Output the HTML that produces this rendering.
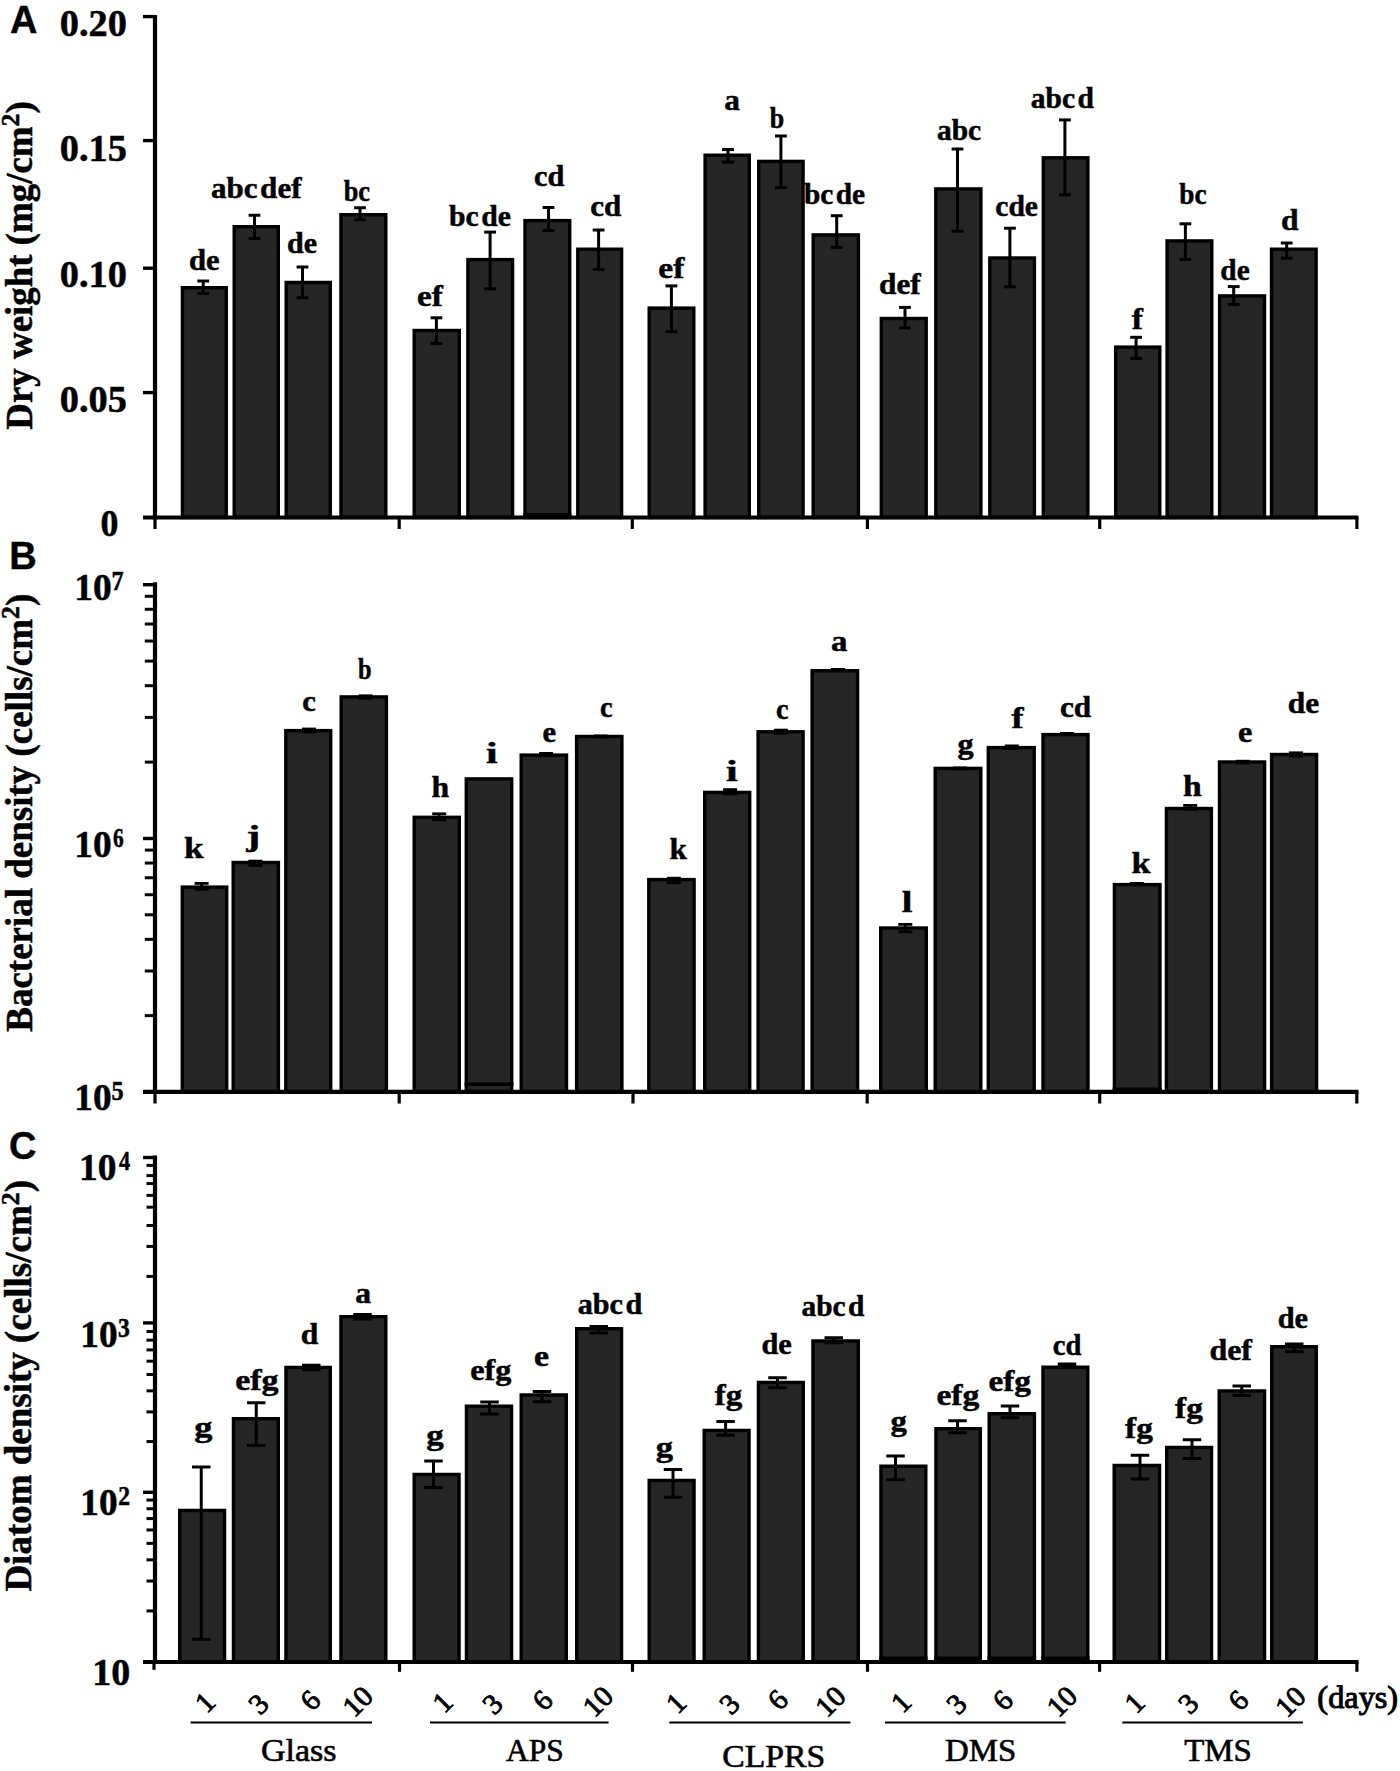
<!DOCTYPE html>
<html lang="en"><head><meta charset="utf-8"><title>Figure</title>
<style>html,body{margin:0;padding:0;background:#fff}svg{display:block}</style></head>
<body><svg width="1400" height="1771" viewBox="0 0 1400 1771">
<rect x="0" y="0" width="1400" height="1771" fill="#fff"/>
<rect x="182.45" y="287.70" width="43.85" height="229.80" fill="#262626" stroke="#000" stroke-width="3.4"/>
<rect x="234.20" y="226.70" width="44.10" height="290.80" fill="#262626" stroke="#000" stroke-width="3.4"/>
<rect x="286.20" y="282.45" width="44.10" height="235.05" fill="#262626" stroke="#000" stroke-width="3.4"/>
<rect x="340.95" y="214.70" width="44.85" height="302.80" fill="#262626" stroke="#000" stroke-width="3.4"/>
<rect x="414.20" y="330.50" width="45.10" height="187.00" fill="#262626" stroke="#000" stroke-width="3.4"/>
<rect x="467.90" y="259.60" width="44.70" height="257.90" fill="#262626" stroke="#000" stroke-width="3.4"/>
<rect x="525.00" y="220.60" width="44.70" height="296.90" fill="#262626" stroke="#000" stroke-width="3.4"/>
<rect x="577.80" y="249.20" width="43.80" height="268.30" fill="#262626" stroke="#000" stroke-width="3.4"/>
<rect x="649.20" y="308.10" width="44.60" height="209.40" fill="#262626" stroke="#000" stroke-width="3.4"/>
<rect x="705.10" y="155.20" width="44.20" height="362.30" fill="#262626" stroke="#000" stroke-width="3.4"/>
<rect x="758.70" y="161.40" width="44.40" height="356.10" fill="#262626" stroke="#000" stroke-width="3.4"/>
<rect x="813.20" y="234.90" width="45.20" height="282.60" fill="#262626" stroke="#000" stroke-width="3.4"/>
<rect x="881.30" y="318.50" width="44.90" height="199.00" fill="#262626" stroke="#000" stroke-width="3.4"/>
<rect x="935.80" y="188.90" width="45.10" height="328.60" fill="#262626" stroke="#000" stroke-width="3.4"/>
<rect x="989.80" y="258.00" width="44.60" height="259.50" fill="#262626" stroke="#000" stroke-width="3.4"/>
<rect x="1043.30" y="157.80" width="44.60" height="359.70" fill="#262626" stroke="#000" stroke-width="3.4"/>
<rect x="1115.70" y="347.10" width="44.10" height="170.40" fill="#262626" stroke="#000" stroke-width="3.4"/>
<rect x="1167.10" y="240.90" width="44.70" height="276.60" fill="#262626" stroke="#000" stroke-width="3.4"/>
<rect x="1219.60" y="295.90" width="44.90" height="221.60" fill="#262626" stroke="#000" stroke-width="3.4"/>
<rect x="1271.50" y="249.20" width="44.60" height="268.30" fill="#262626" stroke="#000" stroke-width="3.4"/>
<line x1="203.25" y1="280.50" x2="203.25" y2="294.00" stroke="#000" stroke-width="3.0" stroke-linecap="butt"/>
<line x1="197.35" y1="281.00" x2="209.15" y2="281.00" stroke="#000" stroke-width="3.0" stroke-linecap="butt"/>
<line x1="197.35" y1="293.50" x2="209.15" y2="293.50" stroke="#000" stroke-width="3.0" stroke-linecap="butt"/>
<line x1="254.50" y1="214.75" x2="254.50" y2="239.00" stroke="#000" stroke-width="3.0" stroke-linecap="butt"/>
<line x1="248.60" y1="215.25" x2="260.40" y2="215.25" stroke="#000" stroke-width="3.0" stroke-linecap="butt"/>
<line x1="248.60" y1="238.50" x2="260.40" y2="238.50" stroke="#000" stroke-width="3.0" stroke-linecap="butt"/>
<line x1="302.50" y1="266.50" x2="302.50" y2="298.25" stroke="#000" stroke-width="3.0" stroke-linecap="butt"/>
<line x1="296.60" y1="267.00" x2="308.40" y2="267.00" stroke="#000" stroke-width="3.0" stroke-linecap="butt"/>
<line x1="296.60" y1="297.75" x2="308.40" y2="297.75" stroke="#000" stroke-width="3.0" stroke-linecap="butt"/>
<line x1="360.00" y1="207.25" x2="360.00" y2="220.25" stroke="#000" stroke-width="3.0" stroke-linecap="butt"/>
<line x1="354.10" y1="207.75" x2="365.90" y2="207.75" stroke="#000" stroke-width="3.0" stroke-linecap="butt"/>
<line x1="354.10" y1="219.75" x2="365.90" y2="219.75" stroke="#000" stroke-width="3.0" stroke-linecap="butt"/>
<line x1="436.40" y1="317.30" x2="436.40" y2="343.90" stroke="#000" stroke-width="3.0" stroke-linecap="butt"/>
<line x1="430.50" y1="317.80" x2="442.30" y2="317.80" stroke="#000" stroke-width="3.0" stroke-linecap="butt"/>
<line x1="430.50" y1="343.40" x2="442.30" y2="343.40" stroke="#000" stroke-width="3.0" stroke-linecap="butt"/>
<line x1="490.10" y1="231.60" x2="490.10" y2="289.30" stroke="#000" stroke-width="3.0" stroke-linecap="butt"/>
<line x1="484.20" y1="232.10" x2="496.00" y2="232.10" stroke="#000" stroke-width="3.0" stroke-linecap="butt"/>
<line x1="484.20" y1="288.80" x2="496.00" y2="288.80" stroke="#000" stroke-width="3.0" stroke-linecap="butt"/>
<line x1="548.50" y1="207.00" x2="548.50" y2="231.00" stroke="#000" stroke-width="3.0" stroke-linecap="butt"/>
<line x1="542.60" y1="207.50" x2="554.40" y2="207.50" stroke="#000" stroke-width="3.0" stroke-linecap="butt"/>
<line x1="542.60" y1="230.50" x2="554.40" y2="230.50" stroke="#000" stroke-width="3.0" stroke-linecap="butt"/>
<line x1="598.60" y1="229.50" x2="598.60" y2="269.90" stroke="#000" stroke-width="3.0" stroke-linecap="butt"/>
<line x1="592.70" y1="230.00" x2="604.50" y2="230.00" stroke="#000" stroke-width="3.0" stroke-linecap="butt"/>
<line x1="592.70" y1="269.40" x2="604.50" y2="269.40" stroke="#000" stroke-width="3.0" stroke-linecap="butt"/>
<line x1="671.40" y1="285.40" x2="671.40" y2="332.20" stroke="#000" stroke-width="3.0" stroke-linecap="butt"/>
<line x1="665.50" y1="285.90" x2="677.30" y2="285.90" stroke="#000" stroke-width="3.0" stroke-linecap="butt"/>
<line x1="665.50" y1="331.70" x2="677.30" y2="331.70" stroke="#000" stroke-width="3.0" stroke-linecap="butt"/>
<line x1="728.00" y1="149.00" x2="728.00" y2="162.60" stroke="#000" stroke-width="3.0" stroke-linecap="butt"/>
<line x1="722.10" y1="149.50" x2="733.90" y2="149.50" stroke="#000" stroke-width="3.0" stroke-linecap="butt"/>
<line x1="722.10" y1="162.10" x2="733.90" y2="162.10" stroke="#000" stroke-width="3.0" stroke-linecap="butt"/>
<line x1="780.90" y1="135.50" x2="780.90" y2="188.10" stroke="#000" stroke-width="3.0" stroke-linecap="butt"/>
<line x1="775.00" y1="136.00" x2="786.80" y2="136.00" stroke="#000" stroke-width="3.0" stroke-linecap="butt"/>
<line x1="775.00" y1="187.60" x2="786.80" y2="187.60" stroke="#000" stroke-width="3.0" stroke-linecap="butt"/>
<line x1="836.70" y1="215.20" x2="836.70" y2="247.80" stroke="#000" stroke-width="3.0" stroke-linecap="butt"/>
<line x1="830.80" y1="215.70" x2="842.60" y2="215.70" stroke="#000" stroke-width="3.0" stroke-linecap="butt"/>
<line x1="830.80" y1="247.30" x2="842.60" y2="247.30" stroke="#000" stroke-width="3.0" stroke-linecap="butt"/>
<line x1="905.00" y1="306.90" x2="905.00" y2="328.30" stroke="#000" stroke-width="3.0" stroke-linecap="butt"/>
<line x1="899.10" y1="307.40" x2="910.90" y2="307.40" stroke="#000" stroke-width="3.0" stroke-linecap="butt"/>
<line x1="899.10" y1="327.80" x2="910.90" y2="327.80" stroke="#000" stroke-width="3.0" stroke-linecap="butt"/>
<line x1="957.50" y1="148.50" x2="957.50" y2="231.70" stroke="#000" stroke-width="3.0" stroke-linecap="butt"/>
<line x1="951.60" y1="149.00" x2="963.40" y2="149.00" stroke="#000" stroke-width="3.0" stroke-linecap="butt"/>
<line x1="951.60" y1="231.20" x2="963.40" y2="231.20" stroke="#000" stroke-width="3.0" stroke-linecap="butt"/>
<line x1="1009.90" y1="227.70" x2="1009.90" y2="287.30" stroke="#000" stroke-width="3.0" stroke-linecap="butt"/>
<line x1="1004.00" y1="228.20" x2="1015.80" y2="228.20" stroke="#000" stroke-width="3.0" stroke-linecap="butt"/>
<line x1="1004.00" y1="286.80" x2="1015.80" y2="286.80" stroke="#000" stroke-width="3.0" stroke-linecap="butt"/>
<line x1="1064.90" y1="119.40" x2="1064.90" y2="195.30" stroke="#000" stroke-width="3.0" stroke-linecap="butt"/>
<line x1="1059.00" y1="119.90" x2="1070.80" y2="119.90" stroke="#000" stroke-width="3.0" stroke-linecap="butt"/>
<line x1="1059.00" y1="194.80" x2="1070.80" y2="194.80" stroke="#000" stroke-width="3.0" stroke-linecap="butt"/>
<line x1="1136.10" y1="336.80" x2="1136.10" y2="358.90" stroke="#000" stroke-width="3.0" stroke-linecap="butt"/>
<line x1="1130.20" y1="337.30" x2="1142.00" y2="337.30" stroke="#000" stroke-width="3.0" stroke-linecap="butt"/>
<line x1="1130.20" y1="358.40" x2="1142.00" y2="358.40" stroke="#000" stroke-width="3.0" stroke-linecap="butt"/>
<line x1="1185.40" y1="223.30" x2="1185.40" y2="260.00" stroke="#000" stroke-width="3.0" stroke-linecap="butt"/>
<line x1="1179.50" y1="223.80" x2="1191.30" y2="223.80" stroke="#000" stroke-width="3.0" stroke-linecap="butt"/>
<line x1="1179.50" y1="259.50" x2="1191.30" y2="259.50" stroke="#000" stroke-width="3.0" stroke-linecap="butt"/>
<line x1="1233.70" y1="286.10" x2="1233.70" y2="304.90" stroke="#000" stroke-width="3.0" stroke-linecap="butt"/>
<line x1="1227.80" y1="286.60" x2="1239.60" y2="286.60" stroke="#000" stroke-width="3.0" stroke-linecap="butt"/>
<line x1="1227.80" y1="304.40" x2="1239.60" y2="304.40" stroke="#000" stroke-width="3.0" stroke-linecap="butt"/>
<line x1="1286.70" y1="242.50" x2="1286.70" y2="258.70" stroke="#000" stroke-width="3.0" stroke-linecap="butt"/>
<line x1="1280.80" y1="243.00" x2="1292.60" y2="243.00" stroke="#000" stroke-width="3.0" stroke-linecap="butt"/>
<line x1="1280.80" y1="258.20" x2="1292.60" y2="258.20" stroke="#000" stroke-width="3.0" stroke-linecap="butt"/>
<rect x="523.3" y="513" width="48.1" height="5" fill="#000"/>
<line x1="155.00" y1="15.00" x2="155.00" y2="519.50" stroke="#000" stroke-width="4.2" stroke-linecap="butt"/>
<line x1="143.00" y1="517.50" x2="1358.50" y2="517.50" stroke="#000" stroke-width="4.2" stroke-linecap="butt"/>
<line x1="143.00" y1="16.60" x2="155.00" y2="16.60" stroke="#000" stroke-width="3.4" stroke-linecap="butt"/>
<line x1="143.00" y1="140.60" x2="155.00" y2="140.60" stroke="#000" stroke-width="3.4" stroke-linecap="butt"/>
<line x1="143.00" y1="268.20" x2="155.00" y2="268.20" stroke="#000" stroke-width="3.4" stroke-linecap="butt"/>
<line x1="143.00" y1="392.60" x2="155.00" y2="392.60" stroke="#000" stroke-width="3.4" stroke-linecap="butt"/>
<line x1="155.00" y1="517.50" x2="155.00" y2="529.00" stroke="#000" stroke-width="3.2" stroke-linecap="butt"/>
<line x1="399.20" y1="517.50" x2="399.20" y2="529.00" stroke="#000" stroke-width="3.2" stroke-linecap="butt"/>
<line x1="632.30" y1="517.50" x2="632.30" y2="529.00" stroke="#000" stroke-width="3.2" stroke-linecap="butt"/>
<line x1="867.40" y1="517.50" x2="867.40" y2="529.00" stroke="#000" stroke-width="3.2" stroke-linecap="butt"/>
<line x1="1099.70" y1="517.50" x2="1099.70" y2="529.00" stroke="#000" stroke-width="3.2" stroke-linecap="butt"/>
<line x1="1356.90" y1="517.50" x2="1356.90" y2="529.00" stroke="#000" stroke-width="3.2" stroke-linecap="butt"/>
<rect x="182.30" y="887.10" width="44.40" height="204.80" fill="#262626" stroke="#000" stroke-width="3.4"/>
<rect x="233.20" y="862.50" width="45.20" height="229.40" fill="#262626" stroke="#000" stroke-width="3.4"/>
<rect x="285.80" y="730.60" width="44.90" height="361.30" fill="#262626" stroke="#000" stroke-width="3.4"/>
<rect x="341.20" y="696.90" width="45.20" height="395.00" fill="#262626" stroke="#000" stroke-width="3.4"/>
<rect x="414.20" y="817.30" width="45.10" height="274.60" fill="#262626" stroke="#000" stroke-width="3.4"/>
<rect x="466.30" y="778.90" width="45.40" height="313.00" fill="#262626" stroke="#000" stroke-width="3.4"/>
<rect x="521.20" y="755.10" width="45.30" height="336.80" fill="#262626" stroke="#000" stroke-width="3.4"/>
<rect x="576.60" y="736.50" width="45.30" height="355.40" fill="#262626" stroke="#000" stroke-width="3.4"/>
<rect x="648.80" y="879.60" width="45.30" height="212.30" fill="#262626" stroke="#000" stroke-width="3.4"/>
<rect x="704.70" y="792.40" width="45.00" height="299.50" fill="#262626" stroke="#000" stroke-width="3.4"/>
<rect x="758.10" y="731.80" width="45.00" height="360.10" fill="#262626" stroke="#000" stroke-width="3.4"/>
<rect x="812.10" y="670.70" width="45.50" height="421.20" fill="#262626" stroke="#000" stroke-width="3.4"/>
<rect x="880.70" y="928.00" width="45.60" height="163.90" fill="#262626" stroke="#000" stroke-width="3.4"/>
<rect x="935.20" y="768.40" width="45.60" height="323.50" fill="#262626" stroke="#000" stroke-width="3.4"/>
<rect x="988.30" y="747.60" width="45.90" height="344.30" fill="#262626" stroke="#000" stroke-width="3.4"/>
<rect x="1043.00" y="734.60" width="45.00" height="357.30" fill="#262626" stroke="#000" stroke-width="3.4"/>
<rect x="1114.40" y="884.60" width="45.60" height="207.30" fill="#262626" stroke="#000" stroke-width="3.4"/>
<rect x="1166.40" y="808.50" width="45.00" height="283.40" fill="#262626" stroke="#000" stroke-width="3.4"/>
<rect x="1219.50" y="762.00" width="45.10" height="329.90" fill="#262626" stroke="#000" stroke-width="3.4"/>
<rect x="1271.60" y="754.50" width="45.00" height="337.40" fill="#262626" stroke="#000" stroke-width="3.4"/>
<line x1="201.60" y1="883.00" x2="201.60" y2="889.70" stroke="#000" stroke-width="2.8" stroke-linecap="butt"/>
<line x1="194.60" y1="883.40" x2="208.60" y2="883.40" stroke="#000" stroke-width="2.8" stroke-linecap="butt"/>
<line x1="194.60" y1="889.30" x2="208.60" y2="889.30" stroke="#000" stroke-width="2.8" stroke-linecap="butt"/>
<line x1="255.40" y1="860.70" x2="255.40" y2="865.90" stroke="#000" stroke-width="2.8" stroke-linecap="butt"/>
<line x1="248.40" y1="861.10" x2="262.40" y2="861.10" stroke="#000" stroke-width="2.8" stroke-linecap="butt"/>
<line x1="248.40" y1="865.50" x2="262.40" y2="865.50" stroke="#000" stroke-width="2.8" stroke-linecap="butt"/>
<rect x="302.00" y="727.60" width="14.00" height="5.80" fill="#000"/>
<rect x="358.50" y="694.40" width="14.00" height="5.30" fill="#000"/>
<line x1="439.20" y1="813.40" x2="439.20" y2="820.20" stroke="#000" stroke-width="2.8" stroke-linecap="butt"/>
<line x1="432.20" y1="813.80" x2="446.20" y2="813.80" stroke="#000" stroke-width="2.8" stroke-linecap="butt"/>
<line x1="432.20" y1="819.80" x2="446.20" y2="819.80" stroke="#000" stroke-width="2.8" stroke-linecap="butt"/>
<rect x="539.10" y="752.00" width="14.00" height="5.00" fill="#000"/>
<rect x="593.60" y="734.50" width="14.00" height="4.00" fill="#000"/>
<line x1="673.90" y1="877.80" x2="673.90" y2="883.20" stroke="#000" stroke-width="2.8" stroke-linecap="butt"/>
<line x1="666.90" y1="878.20" x2="680.90" y2="878.20" stroke="#000" stroke-width="2.8" stroke-linecap="butt"/>
<line x1="666.90" y1="882.80" x2="680.90" y2="882.80" stroke="#000" stroke-width="2.8" stroke-linecap="butt"/>
<line x1="730.10" y1="789.20" x2="730.10" y2="794.30" stroke="#000" stroke-width="2.8" stroke-linecap="butt"/>
<line x1="723.10" y1="789.60" x2="737.10" y2="789.60" stroke="#000" stroke-width="2.8" stroke-linecap="butt"/>
<line x1="723.10" y1="793.90" x2="737.10" y2="793.90" stroke="#000" stroke-width="2.8" stroke-linecap="butt"/>
<line x1="780.80" y1="729.70" x2="780.80" y2="733.80" stroke="#000" stroke-width="2.8" stroke-linecap="butt"/>
<line x1="773.80" y1="730.10" x2="787.80" y2="730.10" stroke="#000" stroke-width="2.8" stroke-linecap="butt"/>
<line x1="773.80" y1="733.40" x2="787.80" y2="733.40" stroke="#000" stroke-width="2.8" stroke-linecap="butt"/>
<rect x="831.00" y="668.00" width="14.00" height="3.50" fill="#000"/>
<line x1="905.30" y1="924.00" x2="905.30" y2="932.20" stroke="#000" stroke-width="2.8" stroke-linecap="butt"/>
<line x1="898.30" y1="924.40" x2="912.30" y2="924.40" stroke="#000" stroke-width="2.8" stroke-linecap="butt"/>
<line x1="898.30" y1="931.80" x2="912.30" y2="931.80" stroke="#000" stroke-width="2.8" stroke-linecap="butt"/>
<rect x="952.80" y="766.50" width="14.00" height="4.00" fill="#000"/>
<rect x="1004.80" y="744.50" width="14.00" height="5.50" fill="#000"/>
<rect x="1060.00" y="732.00" width="14.00" height="3.50" fill="#000"/>
<rect x="1129.80" y="882.00" width="14.00" height="3.50" fill="#000"/>
<line x1="1190.20" y1="805.00" x2="1190.20" y2="809.90" stroke="#000" stroke-width="2.8" stroke-linecap="butt"/>
<line x1="1183.20" y1="805.40" x2="1197.20" y2="805.40" stroke="#000" stroke-width="2.8" stroke-linecap="butt"/>
<line x1="1183.20" y1="809.50" x2="1197.20" y2="809.50" stroke="#000" stroke-width="2.8" stroke-linecap="butt"/>
<rect x="1235.70" y="759.80" width="14.00" height="4.70" fill="#000"/>
<line x1="1295.90" y1="752.40" x2="1295.90" y2="756.50" stroke="#000" stroke-width="2.8" stroke-linecap="butt"/>
<line x1="1288.90" y1="752.80" x2="1302.90" y2="752.80" stroke="#000" stroke-width="2.8" stroke-linecap="butt"/>
<line x1="1288.90" y1="756.10" x2="1302.90" y2="756.10" stroke="#000" stroke-width="2.8" stroke-linecap="butt"/>
<rect x="464.6" y="1082.5" width="48.8" height="3.5" fill="#000"/>
<rect x="1112.7" y="1087.5" width="49" height="5" fill="#000"/>
<line x1="155.00" y1="582.30" x2="155.00" y2="1093.90" stroke="#000" stroke-width="4.2" stroke-linecap="butt"/>
<line x1="143.00" y1="1091.90" x2="1358.50" y2="1091.90" stroke="#000" stroke-width="4.2" stroke-linecap="butt"/>
<line x1="143.00" y1="584.70" x2="155.00" y2="584.70" stroke="#000" stroke-width="3.4" stroke-linecap="butt"/>
<line x1="143.00" y1="838.50" x2="155.00" y2="838.50" stroke="#000" stroke-width="3.4" stroke-linecap="butt"/>
<line x1="144.80" y1="762.10" x2="155.00" y2="762.10" stroke="#000" stroke-width="3" stroke-linecap="butt"/>
<line x1="144.80" y1="717.41" x2="155.00" y2="717.41" stroke="#000" stroke-width="3" stroke-linecap="butt"/>
<line x1="144.80" y1="685.70" x2="155.00" y2="685.70" stroke="#000" stroke-width="3" stroke-linecap="butt"/>
<line x1="144.80" y1="661.10" x2="155.00" y2="661.10" stroke="#000" stroke-width="3" stroke-linecap="butt"/>
<line x1="144.80" y1="641.01" x2="155.00" y2="641.01" stroke="#000" stroke-width="3" stroke-linecap="butt"/>
<line x1="144.80" y1="624.01" x2="155.00" y2="624.01" stroke="#000" stroke-width="3" stroke-linecap="butt"/>
<line x1="144.80" y1="609.30" x2="155.00" y2="609.30" stroke="#000" stroke-width="3" stroke-linecap="butt"/>
<line x1="144.80" y1="596.31" x2="155.00" y2="596.31" stroke="#000" stroke-width="3" stroke-linecap="butt"/>
<line x1="144.80" y1="1015.62" x2="155.00" y2="1015.62" stroke="#000" stroke-width="3" stroke-linecap="butt"/>
<line x1="144.80" y1="971.00" x2="155.00" y2="971.00" stroke="#000" stroke-width="3" stroke-linecap="butt"/>
<line x1="144.80" y1="939.34" x2="155.00" y2="939.34" stroke="#000" stroke-width="3" stroke-linecap="butt"/>
<line x1="144.80" y1="914.78" x2="155.00" y2="914.78" stroke="#000" stroke-width="3" stroke-linecap="butt"/>
<line x1="144.80" y1="894.72" x2="155.00" y2="894.72" stroke="#000" stroke-width="3" stroke-linecap="butt"/>
<line x1="144.80" y1="877.75" x2="155.00" y2="877.75" stroke="#000" stroke-width="3" stroke-linecap="butt"/>
<line x1="144.80" y1="863.06" x2="155.00" y2="863.06" stroke="#000" stroke-width="3" stroke-linecap="butt"/>
<line x1="144.80" y1="850.09" x2="155.00" y2="850.09" stroke="#000" stroke-width="3" stroke-linecap="butt"/>
<line x1="155.00" y1="1091.90" x2="155.00" y2="1103.50" stroke="#000" stroke-width="3.2" stroke-linecap="butt"/>
<line x1="399.20" y1="1091.90" x2="399.20" y2="1103.50" stroke="#000" stroke-width="3.2" stroke-linecap="butt"/>
<line x1="633.00" y1="1091.90" x2="633.00" y2="1103.50" stroke="#000" stroke-width="3.2" stroke-linecap="butt"/>
<line x1="867.20" y1="1091.90" x2="867.20" y2="1103.50" stroke="#000" stroke-width="3.2" stroke-linecap="butt"/>
<line x1="1099.70" y1="1091.90" x2="1099.70" y2="1103.50" stroke="#000" stroke-width="3.2" stroke-linecap="butt"/>
<line x1="1356.80" y1="1091.90" x2="1356.80" y2="1103.50" stroke="#000" stroke-width="3.2" stroke-linecap="butt"/>
<rect x="179.70" y="1510.45" width="44.85" height="151.55" fill="#262626" stroke="#000" stroke-width="3.4"/>
<rect x="233.45" y="1418.70" width="44.85" height="243.30" fill="#262626" stroke="#000" stroke-width="3.4"/>
<rect x="285.95" y="1367.45" width="44.35" height="294.55" fill="#262626" stroke="#000" stroke-width="3.4"/>
<rect x="340.95" y="1316.70" width="44.85" height="345.30" fill="#262626" stroke="#000" stroke-width="3.4"/>
<rect x="414.20" y="1474.45" width="44.85" height="187.55" fill="#262626" stroke="#000" stroke-width="3.4"/>
<rect x="466.45" y="1406.20" width="45.10" height="255.80" fill="#262626" stroke="#000" stroke-width="3.4"/>
<rect x="521.20" y="1394.95" width="45.10" height="267.05" fill="#262626" stroke="#000" stroke-width="3.4"/>
<rect x="576.70" y="1328.70" width="44.85" height="333.30" fill="#262626" stroke="#000" stroke-width="3.4"/>
<rect x="649.20" y="1480.45" width="44.85" height="181.55" fill="#262626" stroke="#000" stroke-width="3.4"/>
<rect x="704.20" y="1430.45" width="44.85" height="231.55" fill="#262626" stroke="#000" stroke-width="3.4"/>
<rect x="758.45" y="1382.45" width="44.85" height="279.55" fill="#262626" stroke="#000" stroke-width="3.4"/>
<rect x="812.95" y="1340.95" width="45.35" height="321.05" fill="#262626" stroke="#000" stroke-width="3.4"/>
<rect x="880.95" y="1466.20" width="44.85" height="195.80" fill="#262626" stroke="#000" stroke-width="3.4"/>
<rect x="935.95" y="1428.70" width="44.35" height="233.30" fill="#262626" stroke="#000" stroke-width="3.4"/>
<rect x="989.20" y="1413.70" width="45.20" height="248.30" fill="#262626" stroke="#000" stroke-width="3.4"/>
<rect x="1042.95" y="1367.20" width="44.85" height="294.80" fill="#262626" stroke="#000" stroke-width="3.4"/>
<rect x="1114.20" y="1465.45" width="45.35" height="196.55" fill="#262626" stroke="#000" stroke-width="3.4"/>
<rect x="1166.70" y="1447.45" width="44.85" height="214.55" fill="#262626" stroke="#000" stroke-width="3.4"/>
<rect x="1219.20" y="1390.95" width="45.35" height="271.05" fill="#262626" stroke="#000" stroke-width="3.4"/>
<rect x="1271.70" y="1346.70" width="44.60" height="315.30" fill="#262626" stroke="#000" stroke-width="3.4"/>
<line x1="201.25" y1="1466.50" x2="201.25" y2="1639.75" stroke="#000" stroke-width="3.0" stroke-linecap="butt"/>
<line x1="192.00" y1="1467.00" x2="210.50" y2="1467.00" stroke="#000" stroke-width="3.0" stroke-linecap="butt"/>
<line x1="192.00" y1="1639.25" x2="210.50" y2="1639.25" stroke="#000" stroke-width="3.0" stroke-linecap="butt"/>
<line x1="256.25" y1="1402.25" x2="256.25" y2="1446.00" stroke="#000" stroke-width="3.0" stroke-linecap="butt"/>
<line x1="247.00" y1="1402.75" x2="265.50" y2="1402.75" stroke="#000" stroke-width="3.0" stroke-linecap="butt"/>
<line x1="247.00" y1="1445.50" x2="265.50" y2="1445.50" stroke="#000" stroke-width="3.0" stroke-linecap="butt"/>
<line x1="311.25" y1="1364.75" x2="311.25" y2="1370.25" stroke="#000" stroke-width="3.0" stroke-linecap="butt"/>
<line x1="302.00" y1="1365.25" x2="320.50" y2="1365.25" stroke="#000" stroke-width="3.0" stroke-linecap="butt"/>
<line x1="302.00" y1="1369.75" x2="320.50" y2="1369.75" stroke="#000" stroke-width="3.0" stroke-linecap="butt"/>
<line x1="362.50" y1="1314.00" x2="362.50" y2="1319.50" stroke="#000" stroke-width="3.0" stroke-linecap="butt"/>
<line x1="353.25" y1="1314.50" x2="371.75" y2="1314.50" stroke="#000" stroke-width="3.0" stroke-linecap="butt"/>
<line x1="353.25" y1="1319.00" x2="371.75" y2="1319.00" stroke="#000" stroke-width="3.0" stroke-linecap="butt"/>
<line x1="433.50" y1="1460.50" x2="433.50" y2="1488.00" stroke="#000" stroke-width="3.0" stroke-linecap="butt"/>
<line x1="424.25" y1="1461.00" x2="442.75" y2="1461.00" stroke="#000" stroke-width="3.0" stroke-linecap="butt"/>
<line x1="424.25" y1="1487.50" x2="442.75" y2="1487.50" stroke="#000" stroke-width="3.0" stroke-linecap="butt"/>
<line x1="489.50" y1="1401.50" x2="489.50" y2="1414.50" stroke="#000" stroke-width="3.0" stroke-linecap="butt"/>
<line x1="480.25" y1="1402.00" x2="498.75" y2="1402.00" stroke="#000" stroke-width="3.0" stroke-linecap="butt"/>
<line x1="480.25" y1="1414.00" x2="498.75" y2="1414.00" stroke="#000" stroke-width="3.0" stroke-linecap="butt"/>
<line x1="542.00" y1="1391.00" x2="542.00" y2="1402.25" stroke="#000" stroke-width="3.0" stroke-linecap="butt"/>
<line x1="532.75" y1="1391.50" x2="551.25" y2="1391.50" stroke="#000" stroke-width="3.0" stroke-linecap="butt"/>
<line x1="532.75" y1="1401.75" x2="551.25" y2="1401.75" stroke="#000" stroke-width="3.0" stroke-linecap="butt"/>
<line x1="598.75" y1="1326.00" x2="598.75" y2="1333.50" stroke="#000" stroke-width="3.0" stroke-linecap="butt"/>
<line x1="589.50" y1="1326.50" x2="608.00" y2="1326.50" stroke="#000" stroke-width="3.0" stroke-linecap="butt"/>
<line x1="589.50" y1="1333.00" x2="608.00" y2="1333.00" stroke="#000" stroke-width="3.0" stroke-linecap="butt"/>
<line x1="673.00" y1="1469.00" x2="673.00" y2="1497.75" stroke="#000" stroke-width="3.0" stroke-linecap="butt"/>
<line x1="663.75" y1="1469.50" x2="682.25" y2="1469.50" stroke="#000" stroke-width="3.0" stroke-linecap="butt"/>
<line x1="663.75" y1="1497.25" x2="682.25" y2="1497.25" stroke="#000" stroke-width="3.0" stroke-linecap="butt"/>
<line x1="725.60" y1="1421.00" x2="725.60" y2="1435.75" stroke="#000" stroke-width="3.0" stroke-linecap="butt"/>
<line x1="716.35" y1="1421.50" x2="734.85" y2="1421.50" stroke="#000" stroke-width="3.0" stroke-linecap="butt"/>
<line x1="716.35" y1="1435.25" x2="734.85" y2="1435.25" stroke="#000" stroke-width="3.0" stroke-linecap="butt"/>
<line x1="777.50" y1="1377.25" x2="777.50" y2="1388.25" stroke="#000" stroke-width="3.0" stroke-linecap="butt"/>
<line x1="768.25" y1="1377.75" x2="786.75" y2="1377.75" stroke="#000" stroke-width="3.0" stroke-linecap="butt"/>
<line x1="768.25" y1="1387.75" x2="786.75" y2="1387.75" stroke="#000" stroke-width="3.0" stroke-linecap="butt"/>
<line x1="833.75" y1="1337.25" x2="833.75" y2="1343.25" stroke="#000" stroke-width="3.0" stroke-linecap="butt"/>
<line x1="824.50" y1="1337.75" x2="843.00" y2="1337.75" stroke="#000" stroke-width="3.0" stroke-linecap="butt"/>
<line x1="824.50" y1="1342.75" x2="843.00" y2="1342.75" stroke="#000" stroke-width="3.0" stroke-linecap="butt"/>
<line x1="895.50" y1="1455.50" x2="895.50" y2="1480.25" stroke="#000" stroke-width="3.0" stroke-linecap="butt"/>
<line x1="886.25" y1="1456.00" x2="904.75" y2="1456.00" stroke="#000" stroke-width="3.0" stroke-linecap="butt"/>
<line x1="886.25" y1="1479.75" x2="904.75" y2="1479.75" stroke="#000" stroke-width="3.0" stroke-linecap="butt"/>
<line x1="957.50" y1="1420.25" x2="957.50" y2="1433.25" stroke="#000" stroke-width="3.0" stroke-linecap="butt"/>
<line x1="948.25" y1="1420.75" x2="966.75" y2="1420.75" stroke="#000" stroke-width="3.0" stroke-linecap="butt"/>
<line x1="948.25" y1="1432.75" x2="966.75" y2="1432.75" stroke="#000" stroke-width="3.0" stroke-linecap="butt"/>
<line x1="1010.00" y1="1405.50" x2="1010.00" y2="1418.25" stroke="#000" stroke-width="3.0" stroke-linecap="butt"/>
<line x1="1000.75" y1="1406.00" x2="1019.25" y2="1406.00" stroke="#000" stroke-width="3.0" stroke-linecap="butt"/>
<line x1="1000.75" y1="1417.75" x2="1019.25" y2="1417.75" stroke="#000" stroke-width="3.0" stroke-linecap="butt"/>
<rect x="1057.75" y="1362.50" width="18.50" height="4.50" fill="#000"/>
<line x1="1140.00" y1="1454.75" x2="1140.00" y2="1479.50" stroke="#000" stroke-width="3.0" stroke-linecap="butt"/>
<line x1="1130.75" y1="1455.25" x2="1149.25" y2="1455.25" stroke="#000" stroke-width="3.0" stroke-linecap="butt"/>
<line x1="1130.75" y1="1479.00" x2="1149.25" y2="1479.00" stroke="#000" stroke-width="3.0" stroke-linecap="butt"/>
<line x1="1192.00" y1="1439.25" x2="1192.00" y2="1459.00" stroke="#000" stroke-width="3.0" stroke-linecap="butt"/>
<line x1="1182.75" y1="1439.75" x2="1201.25" y2="1439.75" stroke="#000" stroke-width="3.0" stroke-linecap="butt"/>
<line x1="1182.75" y1="1458.50" x2="1201.25" y2="1458.50" stroke="#000" stroke-width="3.0" stroke-linecap="butt"/>
<line x1="1241.75" y1="1385.50" x2="1241.75" y2="1396.00" stroke="#000" stroke-width="3.0" stroke-linecap="butt"/>
<line x1="1232.50" y1="1386.00" x2="1251.00" y2="1386.00" stroke="#000" stroke-width="3.0" stroke-linecap="butt"/>
<line x1="1232.50" y1="1395.50" x2="1251.00" y2="1395.50" stroke="#000" stroke-width="3.0" stroke-linecap="butt"/>
<line x1="1294.25" y1="1343.50" x2="1294.25" y2="1352.25" stroke="#000" stroke-width="3.0" stroke-linecap="butt"/>
<line x1="1285.00" y1="1344.00" x2="1303.50" y2="1344.00" stroke="#000" stroke-width="3.0" stroke-linecap="butt"/>
<line x1="1285.00" y1="1351.75" x2="1303.50" y2="1351.75" stroke="#000" stroke-width="3.0" stroke-linecap="butt"/>
<rect x="879.25" y="1656.5" width="48.25" height="6" fill="#000"/>
<rect x="934.25" y="1656.5" width="47.75" height="6" fill="#000"/>
<rect x="987.5" y="1656.5" width="48.59999999999991" height="6" fill="#000"/>
<rect x="1041.25" y="1656.5" width="48.25" height="6" fill="#000"/>
<line x1="155.00" y1="1155.50" x2="155.00" y2="1664.00" stroke="#000" stroke-width="4.2" stroke-linecap="butt"/>
<line x1="143.00" y1="1662.00" x2="1358.50" y2="1662.00" stroke="#000" stroke-width="4.2" stroke-linecap="butt"/>
<line x1="143.00" y1="1157.50" x2="155.00" y2="1157.50" stroke="#000" stroke-width="3.4" stroke-linecap="butt"/>
<line x1="143.00" y1="1322.90" x2="155.00" y2="1322.90" stroke="#000" stroke-width="3.4" stroke-linecap="butt"/>
<line x1="143.00" y1="1492.30" x2="155.00" y2="1492.30" stroke="#000" stroke-width="3.4" stroke-linecap="butt"/>
<line x1="146.50" y1="1165.40" x2="155.00" y2="1165.40" stroke="#000" stroke-width="3" stroke-linecap="butt"/>
<line x1="146.50" y1="1175.60" x2="155.00" y2="1175.60" stroke="#000" stroke-width="3" stroke-linecap="butt"/>
<line x1="146.50" y1="1183.60" x2="155.00" y2="1183.60" stroke="#000" stroke-width="3" stroke-linecap="butt"/>
<line x1="146.50" y1="1195.40" x2="155.00" y2="1195.40" stroke="#000" stroke-width="3" stroke-linecap="butt"/>
<line x1="146.50" y1="1207.20" x2="155.00" y2="1207.20" stroke="#000" stroke-width="3" stroke-linecap="butt"/>
<line x1="146.50" y1="1225.50" x2="155.00" y2="1225.50" stroke="#000" stroke-width="3" stroke-linecap="butt"/>
<line x1="146.50" y1="1246.40" x2="155.00" y2="1246.40" stroke="#000" stroke-width="3" stroke-linecap="butt"/>
<line x1="146.50" y1="1276.40" x2="155.00" y2="1276.40" stroke="#000" stroke-width="3" stroke-linecap="butt"/>
<line x1="146.50" y1="1441.58" x2="155.00" y2="1441.58" stroke="#000" stroke-width="3" stroke-linecap="butt"/>
<line x1="146.50" y1="1411.91" x2="155.00" y2="1411.91" stroke="#000" stroke-width="3" stroke-linecap="butt"/>
<line x1="146.50" y1="1390.85" x2="155.00" y2="1390.85" stroke="#000" stroke-width="3" stroke-linecap="butt"/>
<line x1="146.50" y1="1374.52" x2="155.00" y2="1374.52" stroke="#000" stroke-width="3" stroke-linecap="butt"/>
<line x1="146.50" y1="1361.18" x2="155.00" y2="1361.18" stroke="#000" stroke-width="3" stroke-linecap="butt"/>
<line x1="146.50" y1="1349.90" x2="155.00" y2="1349.90" stroke="#000" stroke-width="3" stroke-linecap="butt"/>
<line x1="146.50" y1="1340.13" x2="155.00" y2="1340.13" stroke="#000" stroke-width="3" stroke-linecap="butt"/>
<line x1="146.50" y1="1331.51" x2="155.00" y2="1331.51" stroke="#000" stroke-width="3" stroke-linecap="butt"/>
<line x1="146.50" y1="1610.92" x2="155.00" y2="1610.92" stroke="#000" stroke-width="3" stroke-linecap="butt"/>
<line x1="146.50" y1="1581.03" x2="155.00" y2="1581.03" stroke="#000" stroke-width="3" stroke-linecap="butt"/>
<line x1="146.50" y1="1559.83" x2="155.00" y2="1559.83" stroke="#000" stroke-width="3" stroke-linecap="butt"/>
<line x1="146.50" y1="1543.38" x2="155.00" y2="1543.38" stroke="#000" stroke-width="3" stroke-linecap="butt"/>
<line x1="146.50" y1="1529.95" x2="155.00" y2="1529.95" stroke="#000" stroke-width="3" stroke-linecap="butt"/>
<line x1="146.50" y1="1518.59" x2="155.00" y2="1518.59" stroke="#000" stroke-width="3" stroke-linecap="butt"/>
<line x1="146.50" y1="1508.75" x2="155.00" y2="1508.75" stroke="#000" stroke-width="3" stroke-linecap="butt"/>
<line x1="146.50" y1="1500.07" x2="155.00" y2="1500.07" stroke="#000" stroke-width="3" stroke-linecap="butt"/>
<line x1="154.00" y1="1662.00" x2="154.00" y2="1669.80" stroke="#000" stroke-width="3.2" stroke-linecap="butt"/>
<line x1="399.50" y1="1662.00" x2="399.50" y2="1671.80" stroke="#000" stroke-width="3.2" stroke-linecap="butt"/>
<line x1="632.50" y1="1662.00" x2="632.50" y2="1671.80" stroke="#000" stroke-width="3.2" stroke-linecap="butt"/>
<line x1="867.50" y1="1662.00" x2="867.50" y2="1671.80" stroke="#000" stroke-width="3.2" stroke-linecap="butt"/>
<line x1="1099.60" y1="1662.00" x2="1099.60" y2="1671.80" stroke="#000" stroke-width="3.2" stroke-linecap="butt"/>
<line x1="1356.90" y1="1662.00" x2="1356.90" y2="1671.80" stroke="#000" stroke-width="3.2" stroke-linecap="butt"/>
<line x1="190.60" y1="1722.50" x2="372.00" y2="1722.50" stroke="#000" stroke-width="2.2" stroke-linecap="butt"/>
<line x1="430.00" y1="1722.50" x2="608.60" y2="1722.50" stroke="#000" stroke-width="2.2" stroke-linecap="butt"/>
<line x1="669.30" y1="1722.50" x2="850.40" y2="1722.50" stroke="#000" stroke-width="2.2" stroke-linecap="butt"/>
<line x1="885.00" y1="1722.50" x2="1065.70" y2="1722.50" stroke="#000" stroke-width="2.2" stroke-linecap="butt"/>
<line x1="1122.30" y1="1722.50" x2="1302.90" y2="1722.50" stroke="#000" stroke-width="2.2" stroke-linecap="butt"/>
<text x="188.96" y="269.50" font-size="30" textLength="30.62" lengthAdjust="spacingAndGlyphs" stroke="#000" stroke-width="0.5" style="font-family:'Liberation Serif',serif;font-weight:bold">de</text>
<text x="211.00" y="198.00" font-size="30" textLength="90.52" lengthAdjust="spacingAndGlyphs" stroke="#000" stroke-width="0.5" style="font-family:'Liberation Serif',serif;font-weight:bold">abc<tspan dx="2.5">def</tspan></text>
<text x="286.96" y="253.25" font-size="30" textLength="30.04" lengthAdjust="spacingAndGlyphs" stroke="#000" stroke-width="0.5" style="font-family:'Liberation Serif',serif;font-weight:bold">de</text>
<text x="343.69" y="201.25" font-size="30" textLength="26.31" lengthAdjust="spacingAndGlyphs" stroke="#000" stroke-width="0.5" style="font-family:'Liberation Serif',serif;font-weight:bold">bc</text>
<text x="417.14" y="305.80" font-size="30" textLength="25.81" lengthAdjust="spacingAndGlyphs" stroke="#000" stroke-width="0.5" style="font-family:'Liberation Serif',serif;font-weight:bold">ef</text>
<text x="449.07" y="226.30" font-size="30" textLength="61.76" lengthAdjust="spacingAndGlyphs" stroke="#000" stroke-width="0.5" style="font-family:'Liberation Serif',serif;font-weight:bold">bc<tspan dx="2.5">de</tspan></text>
<text x="533.94" y="186.00" font-size="30" textLength="30.36" lengthAdjust="spacingAndGlyphs" stroke="#000" stroke-width="0.5" style="font-family:'Liberation Serif',serif;font-weight:bold">cd</text>
<text x="590.15" y="215.60" font-size="30" textLength="31.00" lengthAdjust="spacingAndGlyphs" stroke="#000" stroke-width="0.5" style="font-family:'Liberation Serif',serif;font-weight:bold">cd</text>
<text x="658.27" y="277.80" font-size="30" textLength="26.08" lengthAdjust="spacingAndGlyphs" stroke="#000" stroke-width="0.5" style="font-family:'Liberation Serif',serif;font-weight:bold">ef</text>
<text x="724.32" y="110.20" font-size="30" textLength="15.64" lengthAdjust="spacingAndGlyphs" stroke="#000" stroke-width="0.5" style="font-family:'Liberation Serif',serif;font-weight:bold">a</text>
<text x="769.83" y="128.00" font-size="30" textLength="14.41" lengthAdjust="spacingAndGlyphs" stroke="#000" stroke-width="0.5" style="font-family:'Liberation Serif',serif;font-weight:bold">b</text>
<text x="804.00" y="203.70" font-size="30" textLength="61.13" lengthAdjust="spacingAndGlyphs" stroke="#000" stroke-width="0.5" style="font-family:'Liberation Serif',serif;font-weight:bold">bc<tspan dx="2.5">de</tspan></text>
<text x="879.03" y="293.80" font-size="30" textLength="41.67" lengthAdjust="spacingAndGlyphs" stroke="#000" stroke-width="0.5" style="font-family:'Liberation Serif',serif;font-weight:bold">def</text>
<text x="936.96" y="140.40" font-size="30" textLength="44.20" lengthAdjust="spacingAndGlyphs" stroke="#000" stroke-width="0.5" style="font-family:'Liberation Serif',serif;font-weight:bold">abc</text>
<text x="995.26" y="215.50" font-size="30" textLength="42.74" lengthAdjust="spacingAndGlyphs" stroke="#000" stroke-width="0.5" style="font-family:'Liberation Serif',serif;font-weight:bold">cde</text>
<text x="1030.87" y="108.00" font-size="30" textLength="63.13" lengthAdjust="spacingAndGlyphs" stroke="#000" stroke-width="0.5" style="font-family:'Liberation Serif',serif;font-weight:bold">abc<tspan dx="2.5">d</tspan></text>
<text x="1131.73" y="329.10" font-size="30" textLength="11.19" lengthAdjust="spacingAndGlyphs" stroke="#000" stroke-width="0.5" style="font-family:'Liberation Serif',serif;font-weight:bold">f</text>
<text x="1179.24" y="203.70" font-size="30" textLength="27.23" lengthAdjust="spacingAndGlyphs" stroke="#000" stroke-width="0.5" style="font-family:'Liberation Serif',serif;font-weight:bold">bc</text>
<text x="1220.35" y="279.80" font-size="30" textLength="29.31" lengthAdjust="spacingAndGlyphs" stroke="#000" stroke-width="0.5" style="font-family:'Liberation Serif',serif;font-weight:bold">de</text>
<text x="1280.97" y="229.60" font-size="30" textLength="17.54" lengthAdjust="spacingAndGlyphs" stroke="#000" stroke-width="0.5" style="font-family:'Liberation Serif',serif;font-weight:bold">d</text>
<text x="184.09" y="857.70" font-size="30" textLength="19.70" lengthAdjust="spacingAndGlyphs" stroke="#000" stroke-width="0.5" style="font-family:'Liberation Serif',serif;font-weight:bold">k</text>
<text x="246.63" y="845.60" font-size="30" textLength="13.65" lengthAdjust="spacingAndGlyphs" stroke="#000" stroke-width="0.5" style="font-family:'Liberation Serif',serif;font-weight:bold">j</text>
<text x="302.18" y="710.70" font-size="30" textLength="13.61" lengthAdjust="spacingAndGlyphs" stroke="#000" stroke-width="0.5" style="font-family:'Liberation Serif',serif;font-weight:bold">c</text>
<text x="358.12" y="679.10" font-size="30" textLength="13.57" lengthAdjust="spacingAndGlyphs" stroke="#000" stroke-width="0.5" style="font-family:'Liberation Serif',serif;font-weight:bold">b</text>
<text x="431.49" y="796.80" font-size="30" textLength="17.66" lengthAdjust="spacingAndGlyphs" stroke="#000" stroke-width="0.5" style="font-family:'Liberation Serif',serif;font-weight:bold">h</text>
<text x="486.12" y="762.50" font-size="30" textLength="11.59" lengthAdjust="spacingAndGlyphs" stroke="#000" stroke-width="0.5" style="font-family:'Liberation Serif',serif;font-weight:bold">i</text>
<text x="542.64" y="742.10" font-size="30" textLength="13.57" lengthAdjust="spacingAndGlyphs" stroke="#000" stroke-width="0.5" style="font-family:'Liberation Serif',serif;font-weight:bold">e</text>
<text x="600.06" y="716.60" font-size="30" textLength="12.56" lengthAdjust="spacingAndGlyphs" stroke="#000" stroke-width="0.5" style="font-family:'Liberation Serif',serif;font-weight:bold">c</text>
<text x="669.49" y="859.10" font-size="30" textLength="17.46" lengthAdjust="spacingAndGlyphs" stroke="#000" stroke-width="0.5" style="font-family:'Liberation Serif',serif;font-weight:bold">k</text>
<text x="725.91" y="780.50" font-size="30" textLength="11.67" lengthAdjust="spacingAndGlyphs" stroke="#000" stroke-width="0.5" style="font-family:'Liberation Serif',serif;font-weight:bold">i</text>
<text x="775.92" y="718.60" font-size="30" textLength="12.56" lengthAdjust="spacingAndGlyphs" stroke="#000" stroke-width="0.5" style="font-family:'Liberation Serif',serif;font-weight:bold">c</text>
<text x="831.14" y="650.80" font-size="30" textLength="16.44" lengthAdjust="spacingAndGlyphs" stroke="#000" stroke-width="0.5" style="font-family:'Liberation Serif',serif;font-weight:bold">a</text>
<text x="901.66" y="912.30" font-size="30" textLength="10.67" lengthAdjust="spacingAndGlyphs" stroke="#000" stroke-width="0.5" style="font-family:'Liberation Serif',serif;font-weight:bold">l</text>
<text x="957.64" y="754.40" font-size="30" textLength="16.09" lengthAdjust="spacingAndGlyphs" stroke="#000" stroke-width="0.5" style="font-family:'Liberation Serif',serif;font-weight:bold">g</text>
<text x="1011.61" y="728.30" font-size="30" textLength="12.07" lengthAdjust="spacingAndGlyphs" stroke="#000" stroke-width="0.5" style="font-family:'Liberation Serif',serif;font-weight:bold">f</text>
<text x="1059.91" y="716.60" font-size="30" textLength="31.26" lengthAdjust="spacingAndGlyphs" stroke="#000" stroke-width="0.5" style="font-family:'Liberation Serif',serif;font-weight:bold">cd</text>
<text x="1131.47" y="872.80" font-size="30" textLength="19.06" lengthAdjust="spacingAndGlyphs" stroke="#000" stroke-width="0.5" style="font-family:'Liberation Serif',serif;font-weight:bold">k</text>
<text x="1182.91" y="796.10" font-size="30" textLength="18.69" lengthAdjust="spacingAndGlyphs" stroke="#000" stroke-width="0.5" style="font-family:'Liberation Serif',serif;font-weight:bold">h</text>
<text x="1238.12" y="742.10" font-size="30" textLength="14.33" lengthAdjust="spacingAndGlyphs" stroke="#000" stroke-width="0.5" style="font-family:'Liberation Serif',serif;font-weight:bold">e</text>
<text x="1287.71" y="712.90" font-size="30" textLength="31.45" lengthAdjust="spacingAndGlyphs" stroke="#000" stroke-width="0.5" style="font-family:'Liberation Serif',serif;font-weight:bold">de</text>
<text x="194.25" y="1436.50" font-size="30" textLength="18.17" lengthAdjust="spacingAndGlyphs" stroke="#000" stroke-width="0.5" style="font-family:'Liberation Serif',serif;font-weight:bold">g</text>
<text x="235.15" y="1390.00" font-size="30" textLength="43.45" lengthAdjust="spacingAndGlyphs" stroke="#000" stroke-width="0.5" style="font-family:'Liberation Serif',serif;font-weight:bold">efg</text>
<text x="300.83" y="1343.75" font-size="30" textLength="17.62" lengthAdjust="spacingAndGlyphs" stroke="#000" stroke-width="0.5" style="font-family:'Liberation Serif',serif;font-weight:bold">d</text>
<text x="355.29" y="1302.50" font-size="30" textLength="15.84" lengthAdjust="spacingAndGlyphs" stroke="#000" stroke-width="0.5" style="font-family:'Liberation Serif',serif;font-weight:bold">a</text>
<text x="426.18" y="1445.00" font-size="30" textLength="17.51" lengthAdjust="spacingAndGlyphs" stroke="#000" stroke-width="0.5" style="font-family:'Liberation Serif',serif;font-weight:bold">g</text>
<text x="470.21" y="1380.00" font-size="30" textLength="41.10" lengthAdjust="spacingAndGlyphs" stroke="#000" stroke-width="0.5" style="font-family:'Liberation Serif',serif;font-weight:bold">efg</text>
<text x="533.91" y="1366.25" font-size="30" textLength="15.02" lengthAdjust="spacingAndGlyphs" stroke="#000" stroke-width="0.5" style="font-family:'Liberation Serif',serif;font-weight:bold">e</text>
<text x="577.73" y="1313.75" font-size="30" textLength="64.58" lengthAdjust="spacingAndGlyphs" stroke="#000" stroke-width="0.5" style="font-family:'Liberation Serif',serif;font-weight:bold">abc<tspan dx="2.5">d</tspan></text>
<text x="655.85" y="1456.50" font-size="30" textLength="17.31" lengthAdjust="spacingAndGlyphs" stroke="#000" stroke-width="0.5" style="font-family:'Liberation Serif',serif;font-weight:bold">g</text>
<text x="714.82" y="1405.20" font-size="30" textLength="27.48" lengthAdjust="spacingAndGlyphs" stroke="#000" stroke-width="0.5" style="font-family:'Liberation Serif',serif;font-weight:bold">fg</text>
<text x="761.45" y="1353.75" font-size="30" textLength="30.35" lengthAdjust="spacingAndGlyphs" stroke="#000" stroke-width="0.5" style="font-family:'Liberation Serif',serif;font-weight:bold">de</text>
<text x="801.44" y="1316.25" font-size="30" textLength="62.92" lengthAdjust="spacingAndGlyphs" stroke="#000" stroke-width="0.5" style="font-family:'Liberation Serif',serif;font-weight:bold">abc<tspan dx="2.5">d</tspan></text>
<text x="890.50" y="1430.50" font-size="30" textLength="16.37" lengthAdjust="spacingAndGlyphs" stroke="#000" stroke-width="0.5" style="font-family:'Liberation Serif',serif;font-weight:bold">g</text>
<text x="936.40" y="1405.00" font-size="30" textLength="42.93" lengthAdjust="spacingAndGlyphs" stroke="#000" stroke-width="0.5" style="font-family:'Liberation Serif',serif;font-weight:bold">efg</text>
<text x="988.41" y="1391.25" font-size="30" textLength="42.63" lengthAdjust="spacingAndGlyphs" stroke="#000" stroke-width="0.5" style="font-family:'Liberation Serif',serif;font-weight:bold">efg</text>
<text x="1052.77" y="1354.50" font-size="30" textLength="28.63" lengthAdjust="spacingAndGlyphs" stroke="#000" stroke-width="0.5" style="font-family:'Liberation Serif',serif;font-weight:bold">cd</text>
<text x="1125.00" y="1438.00" font-size="30" textLength="27.84" lengthAdjust="spacingAndGlyphs" stroke="#000" stroke-width="0.5" style="font-family:'Liberation Serif',serif;font-weight:bold">fg</text>
<text x="1175.00" y="1418.00" font-size="30" textLength="27.84" lengthAdjust="spacingAndGlyphs" stroke="#000" stroke-width="0.5" style="font-family:'Liberation Serif',serif;font-weight:bold">fg</text>
<text x="1209.45" y="1360.00" font-size="30" textLength="42.55" lengthAdjust="spacingAndGlyphs" stroke="#000" stroke-width="0.5" style="font-family:'Liberation Serif',serif;font-weight:bold">def</text>
<text x="1277.65" y="1328.00" font-size="30" textLength="30.35" lengthAdjust="spacingAndGlyphs" stroke="#000" stroke-width="0.5" style="font-family:'Liberation Serif',serif;font-weight:bold">de</text>
<text x="59.78" y="35.50" font-size="37" textLength="67.06" lengthAdjust="spacingAndGlyphs" stroke="#000" stroke-width="0.5" style="font-family:'Liberation Serif',serif;font-weight:bold">0.20</text>
<text x="59.78" y="161.40" font-size="37" textLength="67.06" lengthAdjust="spacingAndGlyphs" stroke="#000" stroke-width="0.5" style="font-family:'Liberation Serif',serif;font-weight:bold">0.15</text>
<text x="59.78" y="287.40" font-size="37" textLength="67.06" lengthAdjust="spacingAndGlyphs" stroke="#000" stroke-width="0.5" style="font-family:'Liberation Serif',serif;font-weight:bold">0.10</text>
<text x="59.78" y="412.10" font-size="37" textLength="67.06" lengthAdjust="spacingAndGlyphs" stroke="#000" stroke-width="0.5" style="font-family:'Liberation Serif',serif;font-weight:bold">0.05</text>
<text x="100.39" y="535.60" font-size="37" textLength="17.94" lengthAdjust="spacingAndGlyphs" stroke="#000" stroke-width="0.5" style="font-family:'Liberation Serif',serif;font-weight:bold">0</text>
<text x="74.20" y="600.00" font-size="37" textLength="37.52" lengthAdjust="spacingAndGlyphs" stroke="#000" stroke-width="0.5" style="font-family:'Liberation Serif',serif;font-weight:bold">10</text>
<text x="111.45" y="590.00" font-size="27" textLength="12.10" lengthAdjust="spacingAndGlyphs" stroke="#000" stroke-width="0.5" style="font-family:'Liberation Serif',serif;font-weight:bold">7</text>
<text x="74.26" y="857.00" font-size="37" textLength="37.29" lengthAdjust="spacingAndGlyphs" stroke="#000" stroke-width="0.5" style="font-family:'Liberation Serif',serif;font-weight:bold">10</text>
<text x="113.00" y="846.50" font-size="27" textLength="10.69" lengthAdjust="spacingAndGlyphs" stroke="#000" stroke-width="0.5" style="font-family:'Liberation Serif',serif;font-weight:bold">6</text>
<text x="74.26" y="1110.00" font-size="37" textLength="37.29" lengthAdjust="spacingAndGlyphs" stroke="#000" stroke-width="0.5" style="font-family:'Liberation Serif',serif;font-weight:bold">10</text>
<text x="111.45" y="1100.00" font-size="27" textLength="12.10" lengthAdjust="spacingAndGlyphs" stroke="#000" stroke-width="0.5" style="font-family:'Liberation Serif',serif;font-weight:bold">5</text>
<text x="79.05" y="1180.00" font-size="37" textLength="37.35" lengthAdjust="spacingAndGlyphs" stroke="#000" stroke-width="0.5" style="font-family:'Liberation Serif',serif;font-weight:bold">10</text>
<text x="118.94" y="1170.00" font-size="27" textLength="11.16" lengthAdjust="spacingAndGlyphs" stroke="#000" stroke-width="0.5" style="font-family:'Liberation Serif',serif;font-weight:bold">4</text>
<text x="80.26" y="1347.40" font-size="37" textLength="37.29" lengthAdjust="spacingAndGlyphs" stroke="#000" stroke-width="0.5" style="font-family:'Liberation Serif',serif;font-weight:bold">10</text>
<text x="118.12" y="1337.00" font-size="27" textLength="11.76" lengthAdjust="spacingAndGlyphs" stroke="#000" stroke-width="0.5" style="font-family:'Liberation Serif',serif;font-weight:bold">3</text>
<text x="80.26" y="1514.90" font-size="37" textLength="37.29" lengthAdjust="spacingAndGlyphs" stroke="#000" stroke-width="0.5" style="font-family:'Liberation Serif',serif;font-weight:bold">10</text>
<text x="118.25" y="1504.50" font-size="27" textLength="11.76" lengthAdjust="spacingAndGlyphs" stroke="#000" stroke-width="0.5" style="font-family:'Liberation Serif',serif;font-weight:bold">2</text>
<text x="92.20" y="1684.50" font-size="37" textLength="37.90" lengthAdjust="spacingAndGlyphs" stroke="#000" stroke-width="0.5" style="font-family:'Liberation Serif',serif;font-weight:bold">10</text>
<text transform="translate(31.60,429.70) rotate(-90)" stroke="#000" stroke-width="0.5" font-size="37" textLength="328.50" lengthAdjust="spacingAndGlyphs" style="font-family:'Liberation Serif',serif;font-weight:bold">Dry weight (mg/cm<tspan font-size="25.9" dy="-12.6">2</tspan><tspan dy="12.6">)</tspan></text>
<text transform="translate(31.50,1031.70) rotate(-90)" stroke="#000" stroke-width="0.5" font-size="37" textLength="438.00" lengthAdjust="spacingAndGlyphs" style="font-family:'Liberation Serif',serif;font-weight:bold">Bacterial density (cells/cm<tspan font-size="25.9" dy="-12.6">2</tspan><tspan dy="12.6">)</tspan></text>
<text transform="translate(31.40,1591.60) rotate(-90)" stroke="#000" stroke-width="0.5" font-size="37" textLength="411.60" lengthAdjust="spacingAndGlyphs" style="font-family:'Liberation Serif',serif;font-weight:bold">Diatom density (cells/cm<tspan font-size="25.9" dy="-12.6">2</tspan><tspan dy="12.6">)</tspan></text>
<text x="10.0" y="33" font-size="38" stroke="#000" stroke-width="0.4" style="font-family:'Liberation Sans',sans-serif;font-weight:bold">A</text>
<text x="9.2" y="569" font-size="38" stroke="#000" stroke-width="0.4" style="font-family:'Liberation Sans',sans-serif;font-weight:bold">B</text>
<text x="8.9" y="1158.8" font-size="38" stroke="#000" stroke-width="0.4" style="font-family:'Liberation Sans',sans-serif;font-weight:bold">C</text>
<text transform="translate(204.80,1702.20) rotate(-45)" text-anchor="middle" y="9.86" font-size="29" stroke="#000" stroke-width="0.9" style="font-family:'Liberation Serif',serif">1</text>
<text transform="translate(258.40,1703.80) rotate(-45)" text-anchor="middle" y="9.86" font-size="29" stroke="#000" stroke-width="0.9" style="font-family:'Liberation Serif',serif">3</text>
<text transform="translate(310.20,1700.20) rotate(-45)" text-anchor="middle" y="9.86" font-size="29" stroke="#000" stroke-width="0.9" style="font-family:'Liberation Serif',serif">6</text>
<text transform="translate(357.40,1701.20) rotate(-45)" text-anchor="middle" y="9.86" font-size="29" stroke="#000" stroke-width="0.9" style="font-family:'Liberation Serif',serif">10</text>
<text transform="translate(442.40,1702.20) rotate(-45)" text-anchor="middle" y="9.86" font-size="29" stroke="#000" stroke-width="0.9" style="font-family:'Liberation Serif',serif">1</text>
<text transform="translate(492.40,1703.80) rotate(-45)" text-anchor="middle" y="9.86" font-size="29" stroke="#000" stroke-width="0.9" style="font-family:'Liberation Serif',serif">3</text>
<text transform="translate(542.40,1700.20) rotate(-45)" text-anchor="middle" y="9.86" font-size="29" stroke="#000" stroke-width="0.9" style="font-family:'Liberation Serif',serif">6</text>
<text transform="translate(597.70,1701.20) rotate(-45)" text-anchor="middle" y="9.86" font-size="29" stroke="#000" stroke-width="0.9" style="font-family:'Liberation Serif',serif">10</text>
<text transform="translate(675.90,1702.80) rotate(-45)" text-anchor="middle" y="9.86" font-size="29" stroke="#000" stroke-width="0.9" style="font-family:'Liberation Serif',serif">1</text>
<text transform="translate(729.50,1703.80) rotate(-45)" text-anchor="middle" y="9.86" font-size="29" stroke="#000" stroke-width="0.9" style="font-family:'Liberation Serif',serif">3</text>
<text transform="translate(777.70,1699.70) rotate(-45)" text-anchor="middle" y="9.86" font-size="29" stroke="#000" stroke-width="0.9" style="font-family:'Liberation Serif',serif">6</text>
<text transform="translate(830.20,1701.20) rotate(-45)" text-anchor="middle" y="9.86" font-size="29" stroke="#000" stroke-width="0.9" style="font-family:'Liberation Serif',serif">10</text>
<text transform="translate(900.90,1702.20) rotate(-45)" text-anchor="middle" y="9.86" font-size="29" stroke="#000" stroke-width="0.9" style="font-family:'Liberation Serif',serif">1</text>
<text transform="translate(956.30,1703.80) rotate(-45)" text-anchor="middle" y="9.86" font-size="29" stroke="#000" stroke-width="0.9" style="font-family:'Liberation Serif',serif">3</text>
<text transform="translate(1002.70,1700.20) rotate(-45)" text-anchor="middle" y="9.86" font-size="29" stroke="#000" stroke-width="0.9" style="font-family:'Liberation Serif',serif">6</text>
<text transform="translate(1061.70,1701.20) rotate(-45)" text-anchor="middle" y="9.86" font-size="29" stroke="#000" stroke-width="0.9" style="font-family:'Liberation Serif',serif">10</text>
<text transform="translate(1134.50,1702.60) rotate(-45)" text-anchor="middle" y="9.86" font-size="29" stroke="#000" stroke-width="0.9" style="font-family:'Liberation Serif',serif">1</text>
<text transform="translate(1188.20,1703.50) rotate(-45)" text-anchor="middle" y="9.86" font-size="29" stroke="#000" stroke-width="0.9" style="font-family:'Liberation Serif',serif">3</text>
<text transform="translate(1238.20,1700.10) rotate(-45)" text-anchor="middle" y="9.86" font-size="29" stroke="#000" stroke-width="0.9" style="font-family:'Liberation Serif',serif">6</text>
<text transform="translate(1290.20,1701.50) rotate(-45)" text-anchor="middle" y="9.86" font-size="29" stroke="#000" stroke-width="0.9" style="font-family:'Liberation Serif',serif">10</text>
<text x="260.97" y="1761.00" font-size="31" textLength="75.47" lengthAdjust="spacingAndGlyphs" stroke="#000" stroke-width="0.6" style="font-family:'Liberation Serif',serif">Glass</text>
<text x="506.09" y="1761.00" font-size="31" textLength="57.68" lengthAdjust="spacingAndGlyphs" stroke="#000" stroke-width="0.6" style="font-family:'Liberation Serif',serif">APS</text>
<text x="722.25" y="1766.80" font-size="31" textLength="103.01" lengthAdjust="spacingAndGlyphs" stroke="#000" stroke-width="0.6" style="font-family:'Liberation Serif',serif">CLPRS</text>
<text x="945.00" y="1761.00" font-size="31" textLength="71.26" lengthAdjust="spacingAndGlyphs" stroke="#000" stroke-width="0.6" style="font-family:'Liberation Serif',serif">DMS</text>
<text x="1184.15" y="1761.00" font-size="31" textLength="67.54" lengthAdjust="spacingAndGlyphs" stroke="#000" stroke-width="0.6" style="font-family:'Liberation Serif',serif">TMS</text>
<text x="1317.38" y="1708.00" font-size="31" textLength="80.76" lengthAdjust="spacingAndGlyphs" stroke="#000" stroke-width="1.0" style="font-family:'Liberation Serif',serif">(days)</text>
</svg></body></html>
